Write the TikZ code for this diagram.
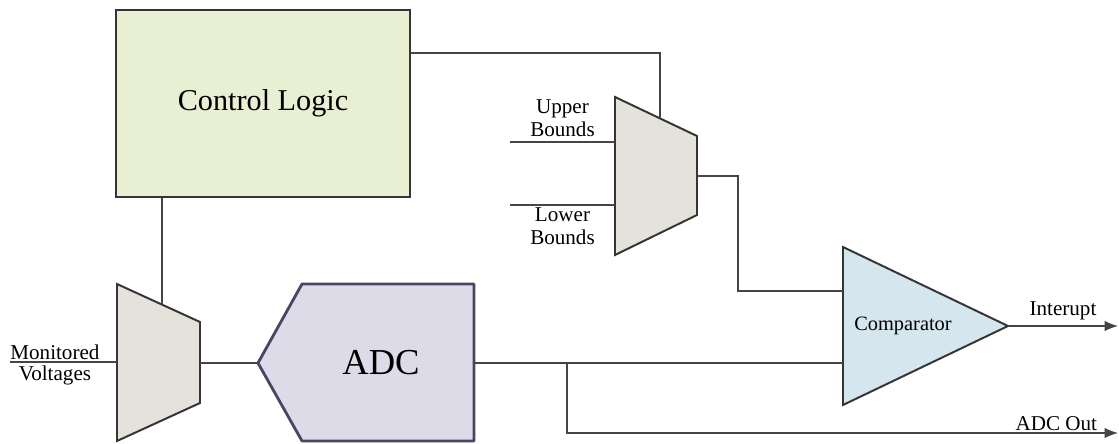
\documentclass[tikz,border=0pt]{standalone}
\usepackage{fontspec}
\setmainfont{Liberation Serif}
\usetikzlibrary{arrows.meta,positioning}
\definecolor{logicBG}{HTML}{E8EFD3}
\definecolor{muxBG}{HTML}{E5E2DB}
\definecolor{adcBG}{HTML}{DEDBE8}
\definecolor{adcBorder}{HTML}{4A4563}
\definecolor{cmpBG}{HTML}{D6E6EE}
\definecolor{edgeGray}{HTML}{353535}
\definecolor{wireGray}{HTML}{454545}

\begin{document}
\begin{tikzpicture}[
  x=0.025cm, y=-0.025cm,
  block/.style={draw=edgeGray, line width=1.4pt, line join=miter},
  wire/.style={draw=wireGray, line width=1pt},
  arr/.style={wire, -{Latex[length=9.5pt,width=7.5pt]}},
  lbl/.style={font=\fontsize{15}{16.5}\selectfont, align=center, inner sep=1pt},
]
  \useasboundingbox (0,0) rectangle (1119,444);

  % control logic block
  \node[block, fill=logicBG, minimum width=7.35cm, minimum height=4.675cm,
    font=\fontsize{21.5}{24}\selectfont] (logic) at (263,103.5) {Control Logic};
  \coordinate (logicTap) at (410,53);

  % bounds selector mux
  \path[block, fill=muxBG] (615,97) -- (697,136) -- (697,215) -- (615,255) -- cycle;
  \coordinate (bndUp) at (615,142);
  \coordinate (bndLo) at (615,205);
  \coordinate (bndOut) at (697,176);
  \coordinate (bndSel) at (660,118.4);
  \coordinate (upIn) at (510,142);
  \coordinate (loIn) at (510,205);

  % input voltage mux
  \path[block, fill=muxBG] (117,284) -- (200,322) -- (200,403) -- (117,441) -- cycle;
  \coordinate (monIn) at (117,362);
  \coordinate (monOut) at (200,363);
  \coordinate (monSel) at (162,304.6);
  \coordinate (monSrc) at (10,362);

  % ADC
  \path[draw=adcBorder, line width=2pt, fill=adcBG, line join=round]
    (258,363) -- (302,284) -- (474,284) -- (474,441) -- (302,441) -- cycle;
  \node[font=\fontsize{26}{30}\selectfont] (adc) at (381,363) {ADC};
  \coordinate (adcIn) at (258,363);
  \coordinate (adcOut) at (474,363);
  \coordinate (adcTap) at (567,363);

  % comparator
  \path[block, fill=cmpBG] (843,247) -- (1008,326) -- (843,405) -- cycle;
  \node[font=\fontsize{14.5}{16}\selectfont] (cmp) at (903,326) {Comparator};
  \coordinate (cmpA) at (843,291);
  \coordinate (cmpB) at (843,363);
  \coordinate (cmpOut) at (1008,326);
  \coordinate (intEnd) at (1118,326);
  \coordinate (adcEnd) at (1118,433);

  % wiring
  \draw[wire] (logicTap) -| (bndSel);
  \draw[wire] (monSel |- logic.south) -- (monSel);
  \draw[wire] (upIn) -- (bndUp) node[lbl, above, midway, inner sep=3pt] {Upper\\Bounds};
  \draw[wire] (loIn) -- (bndLo) node[lbl, below, midway, inner sep=1.5pt] {Lower\\Bounds};
  \draw[wire] (monSrc) -- (monIn)
    node[lbl, above, pos=0.42] {Monitored}
    node[lbl, below, pos=0.42, inner sep=2pt] {Voltages};
  \draw[wire] (monOut) -- (adcIn);
  \draw[wire] (bndOut) -- ++(41,0) |- (cmpA);
  \draw[wire] (adcOut) -- (cmpB);
  \draw[arr] (cmpOut) -- (intEnd) node[lbl, above, midway, inner sep=4pt] {Interupt};
  \draw[arr] (adcTap) |- (adcEnd) node[lbl, above, pos=0.944] {ADC Out};
\end{tikzpicture}
\end{document}
